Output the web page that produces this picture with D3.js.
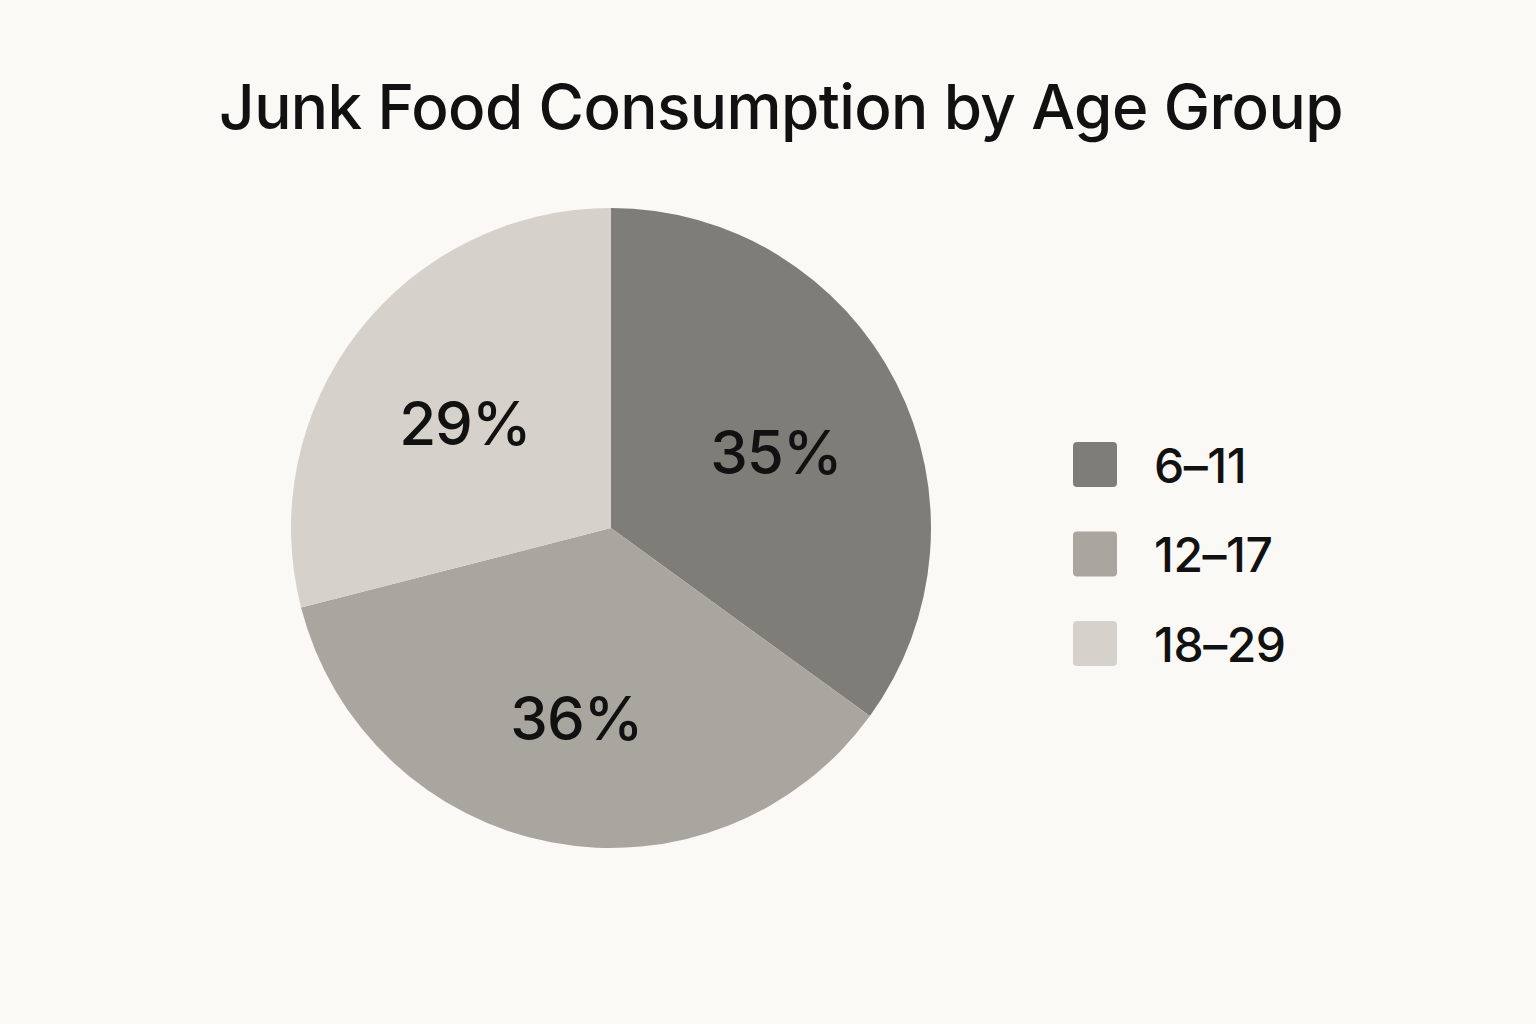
<!DOCTYPE html>
<html><head><meta charset="utf-8">
<script src="https://cdn.jsdelivr.net/npm/d3@7"></script>
<style>html,body{margin:0;padding:0;background:#fbf9f5;}svg{display:block;}</style>
</head><body>
<svg id="chart" width="1536" height="1024"></svg>
<script>
const title = "Junk Food Consumption by Age Group";
const categories = ["6–11", "12–17", "18–29"];
const values = [35, 36, 29];
const colors = ["#7f7d78", "#a9a6a0", "#d6d2cb"];

const svg = d3.select("#chart");
const W = 1536, H = 1024;
svg.append("rect").attr("width", W).attr("height", H).attr("fill", "#fbf9f5");

const font = "Inter, 'Liberation Sans', Arial, sans-serif";

svg.append("text").attr("x", 781).attr("y", 129)
  .attr("text-anchor", "middle").attr("font-family", font).attr("font-weight", 500)
  .attr("font-size", 62).attr("letter-spacing", -0.6).attr("fill", "#111").text(title);

const cx = 611, cy = 528, r = 320;
const g = svg.append("g").attr("transform", `translate(${cx},${cy})`);
const pie = d3.pie().sort(null).value(d => d)(values);
const arc = d3.arc().innerRadius(0).outerRadius(r);
const labelArc = d3.arc().innerRadius(185).outerRadius(185);
const color = d3.scaleOrdinal().domain(categories).range(colors);

g.selectAll("path").data(pie).join("path")
  .attr("d", arc).attr("fill", (d, i) => color(categories[i]));

g.selectAll("text.lbl").data(pie).join("text").attr("class", "lbl")
  .attr("transform", d => `translate(${labelArc.centroid(d)})`)
  .attr("text-anchor", "middle").attr("dy", "0.5em")
  .attr("font-family", font).attr("font-weight", 500).attr("letter-spacing", -1)
  .attr("font-size", 60).attr("fill", "#111")
  .text(d => d.data + "%");

const y = d3.scalePoint().domain(categories).range([464.5, 643.5]);
const leg = svg.append("g");
const items = leg.selectAll("g").data(categories).join("g")
  .attr("transform", d => `translate(1073,${y(d)})`);
items.append("rect").attr("x", 0).attr("y", -22.5).attr("width", 44).attr("height", 45)
  .attr("rx", 4).attr("fill", d => color(d));
items.append("text").attr("x", 81).attr("y", 18).attr("font-family", font).attr("font-weight", 500)
  .attr("font-size", 48).attr("letter-spacing", -0.5).attr("fill", "#111").text(d => d);
</script>
</body></html>
